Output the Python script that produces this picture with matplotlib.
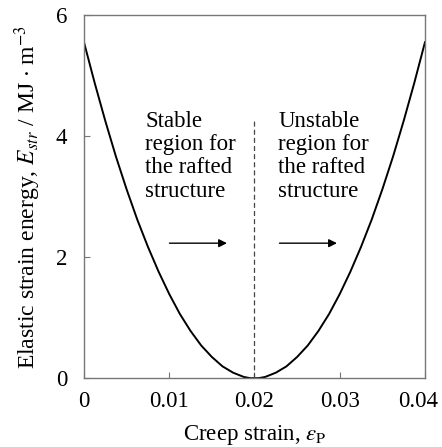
import matplotlib
matplotlib.use('Agg')
import matplotlib.pyplot as plt
import matplotlib.transforms as mtransforms

plt.rcParams['font.family'] = 'Liberation Serif'
plt.rcParams['mathtext.fontset'] = 'stix'

# curve
strain = [0, 0.00125, 0.0025, 0.00375, 0.005, 0.00625, 0.0075, 0.00875, 0.01,
          0.01125, 0.0125, 0.01375, 0.015, 0.01625, 0.0175, 0.01875, 0.0195, 0.02,
          0.0205, 0.02125, 0.0225, 0.02375, 0.025, 0.02625, 0.0275, 0.02875, 0.03,
          0.03125, 0.0325, 0.03375, 0.035, 0.03625, 0.0375, 0.03875, 0.04]
energy = [5.55, 4.88, 4.25, 3.66, 3.12, 2.62, 2.17, 1.76, 1.39,
          1.06, 0.78, 0.54, 0.35, 0.195, 0.09, 0.02, 0.0, 0.0,
          0.0, 0.02, 0.09, 0.195, 0.35, 0.54, 0.78, 1.06, 1.39,
          1.76, 2.17, 2.62, 3.12, 3.66, 4.25, 4.88, 5.55]

x_ticks = [0, 0.01, 0.02, 0.03, 0.04]
x_labels = ['0', '0.01', '0.02', '0.03', '0.04']
y_ticks = [0, 2, 4, 6]

critical = 0.02
dash_top = 4.25
stable_text = 'Stable\nregion for\nthe rafted\nstructure'
unstable_text = 'Unstable\nregion for\nthe rafted\nstructure'

fig = plt.figure(figsize=(4.42, 4.47), dpi=100)
ax = fig.add_axes([0.19, 0.154, 0.7715, 0.8125])

ax.plot(strain, energy, color='black', lw=1.4)
ax.plot([critical, critical], [0, dash_top], color='#444444', lw=0.9, ls=(0, (4, 2.5)))

ax.text(0.0072, 4.42, stable_text, fontsize=16.5, va='top', ha='left', linespacing=1.15)
ax.text(0.0228, 4.42, unstable_text, fontsize=16.5, va='top', ha='left', linespacing=1.15)

ax.annotate('', xy=(0.0171, 2.23), xytext=(0.0097, 2.23),
            arrowprops=dict(arrowstyle='-|>', color='black', lw=1.0, mutation_scale=12))
ax.annotate('', xy=(0.0300, 2.23), xytext=(0.0226, 2.23),
            arrowprops=dict(arrowstyle='-|>', color='black', lw=1.0, mutation_scale=12))

ax.set_xlim(0, 0.04)
ax.set_ylim(0, 6)
ax.set_xticks(x_ticks)
ax.set_xticklabels(x_labels)
ax.set_yticks(y_ticks)
ax.tick_params(direction='in', length=4, width=0.8, color='#777777', labelsize=16.5)
ax.tick_params(axis='x', pad=9)
ax.tick_params(axis='y', pad=12)
for s in ax.spines.values():
    s.set_color('#777777')
    s.set_linewidth(1.0)

# last tick label sits a little left in the original
last = ax.get_xticklabels()[-1]
last.set_transform(last.get_transform() + mtransforms.ScaledTranslation(-7 / 100, 0, fig.dpi_scale_trans))

ax.set_xlabel(r'Creep strain, $\varepsilon_{\mathrm{P}}$', fontsize=16.5, labelpad=8)
ax.set_ylabel(r'Elastic strain energy, $E_{str}$ / MJ $\cdot$ m$^{-3}$', fontsize=17, labelpad=9)

fig.savefig('out.png', dpi=100)
